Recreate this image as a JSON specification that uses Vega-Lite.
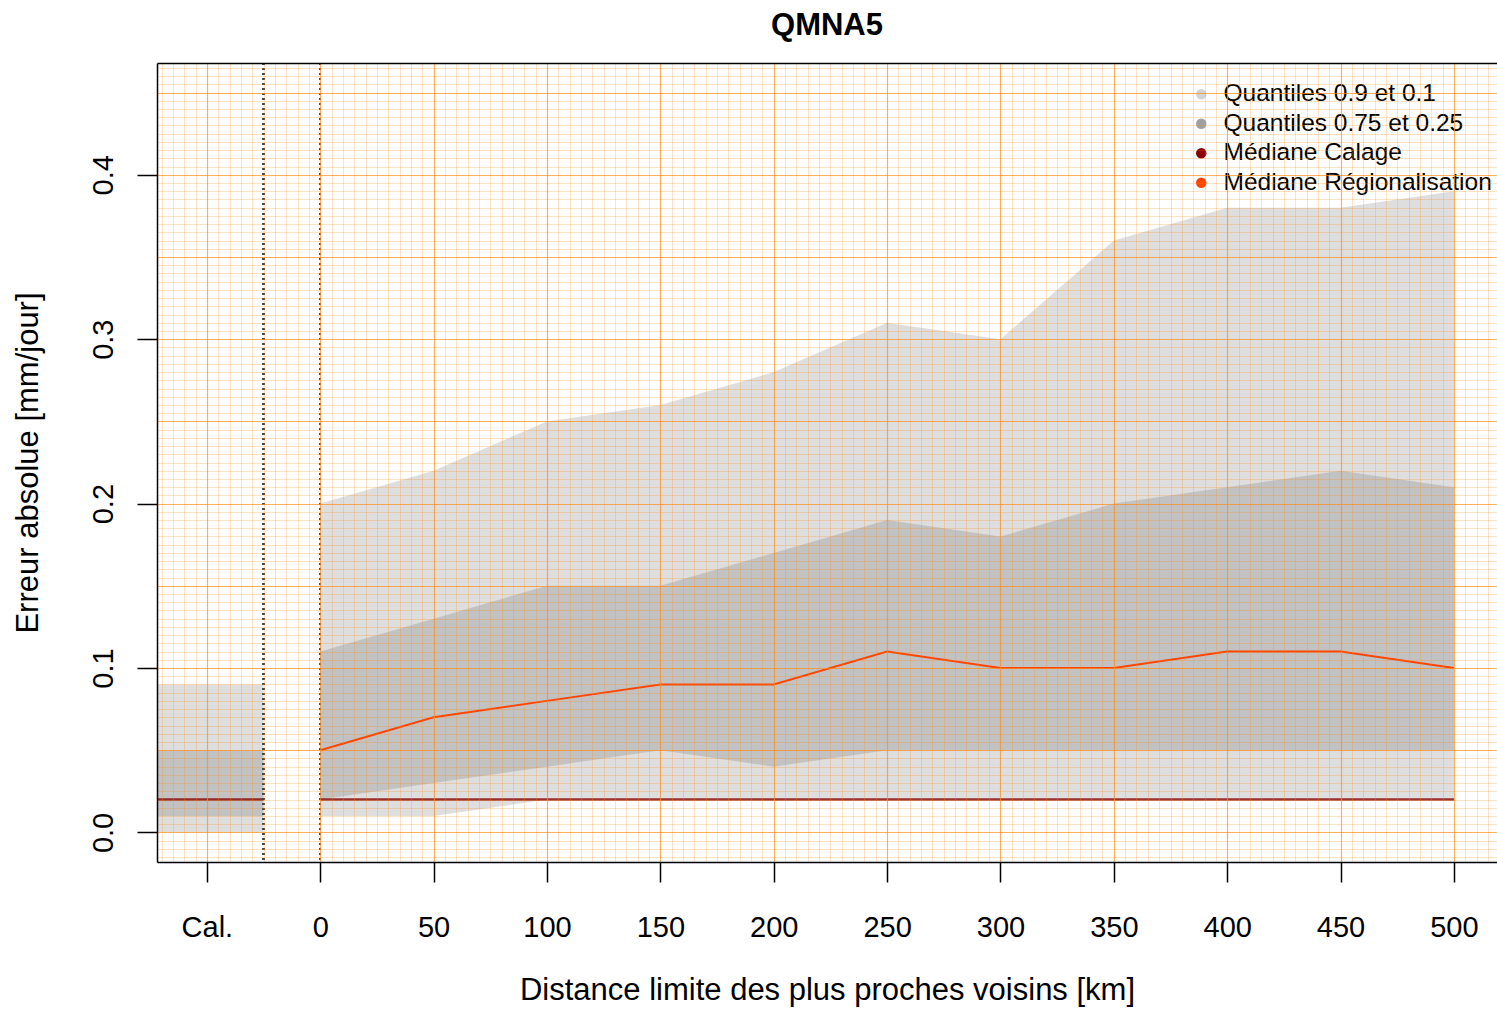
{
  "$schema": "https://vega.github.io/schema/vega-lite/v6.json",
  "autosize": "none",
  "width": 1340,
  "height": 799,
  "padding": {"left": 157, "top": 63, "right": 0, "bottom": 147},
  "title": {"text": "QMNA5", "fontSize": 31, "fontWeight": "bold", "font": "Liberation Sans", "color": "black", "offset": 20, "anchor": "middle"},
  "config": {"font": "Liberation Sans", "view": {"stroke": null}},
  "data": {"values": [
    {"part": "cal", "x": -75, "q10": 0.0, "q25": 0.01, "q75": 0.05, "q90": 0.09, "medcal": 0.02},
    {"part": "cal", "x": -25, "q10": 0.0, "q25": 0.01, "q75": 0.05, "q90": 0.09, "medcal": 0.02},
    {"part": "reg", "x": 0, "q10": 0.01, "q25": 0.02, "medreg": 0.05, "q75": 0.11, "q90": 0.20, "medcal": 0.02},
    {"part": "reg", "x": 50, "q10": 0.01, "q25": 0.03, "medreg": 0.07, "q75": 0.13, "q90": 0.22, "medcal": 0.02},
    {"part": "reg", "x": 100, "q10": 0.02, "q25": 0.04, "medreg": 0.08, "q75": 0.15, "q90": 0.25, "medcal": 0.02},
    {"part": "reg", "x": 150, "q10": 0.02, "q25": 0.05, "medreg": 0.09, "q75": 0.15, "q90": 0.26, "medcal": 0.02},
    {"part": "reg", "x": 200, "q10": 0.02, "q25": 0.04, "medreg": 0.09, "q75": 0.17, "q90": 0.28, "medcal": 0.02},
    {"part": "reg", "x": 250, "q10": 0.02, "q25": 0.05, "medreg": 0.11, "q75": 0.19, "q90": 0.31, "medcal": 0.02},
    {"part": "reg", "x": 300, "q10": 0.02, "q25": 0.05, "medreg": 0.10, "q75": 0.18, "q90": 0.30, "medcal": 0.02},
    {"part": "reg", "x": 350, "q10": 0.02, "q25": 0.05, "medreg": 0.10, "q75": 0.20, "q90": 0.36, "medcal": 0.02},
    {"part": "reg", "x": 400, "q10": 0.02, "q25": 0.05, "medreg": 0.11, "q75": 0.21, "q90": 0.38, "medcal": 0.02},
    {"part": "reg", "x": 450, "q10": 0.02, "q25": 0.05, "medreg": 0.11, "q75": 0.22, "q90": 0.38, "medcal": 0.02},
    {"part": "reg", "x": 500, "q10": 0.02, "q25": 0.05, "medreg": 0.10, "q75": 0.21, "q90": 0.39, "medcal": 0.02}
  ]},
  "resolve": {"axis": {"x": "independent", "y": "independent"}},
  "layer": [
    {
      "mark": {"type": "area", "clip": true, "opacity": 0.75},
      "encoding": {
        "x": {"field": "x", "type": "quantitative",
          "scale": {"domain": [-72, 519], "nice": false, "zero": false},
          "axis": {"orient": "top", "tickCount": 120, "labels": false, "ticks": false, "domain": true, "domainColor": "black", "domainWidth": 1.5, "grid": true, "gridColor": "#ff8c1a", "gridOpacity": 0.26, "gridWidth": 1, "title": null, "zindex": 1}},
        "y": {"field": "q90", "type": "quantitative",
          "scale": {"domain": [-0.018, 0.468], "nice": false, "zero": false},
          "axis": {"orient": "right", "tickCount": 100, "labels": false, "ticks": false, "domain": false, "grid": true, "gridColor": "#ff8c1a", "gridOpacity": 0.26, "gridWidth": 1, "title": null, "zindex": 1}},
        "y2": {"field": "q10"},
        "detail": {"field": "part"},
        "color": {"datum": "Quantiles 0.9 et 0.1", "type": "nominal",
          "scale": {"domain": ["Quantiles 0.9 et 0.1", "Quantiles 0.75 et 0.25", "Médiane Calage", "Médiane Régionalisation"], "range": ["#d3d3d3", "#a0a0a0", "#8b0000", "#ff4500"]},
          "legend": {"orient": "none", "legendX": 1032, "legendY": 19, "title": null, "symbolType": "circle", "symbolSize": 110, "labelFontSize": 24.5, "labelFont": "Liberation Sans", "labelColor": "black", "labelOffset": 10, "labelLimit": 0, "rowPadding": 4.5, "padding": 0, "symbolStrokeWidth": 0, "symbolOpacity": 1,
            "encode": {"symbols": {"update": {"fill": {"scale": "color", "field": "value"}, "opacity": {"value": 1}, "strokeWidth": {"value": 0}}}}}}
      }
    },
    {
      "mark": {"type": "area", "clip": true, "opacity": 0.44},
      "encoding": {
        "x": {"field": "x", "type": "quantitative", "axis": null},
        "y": {"field": "q75", "type": "quantitative", "axis": null},
        "y2": {"field": "q25"},
        "detail": {"field": "part"},
        "color": {"datum": "Quantiles 0.75 et 0.25", "type": "nominal"}
      }
    },
    {
      "mark": {"type": "line", "clip": true, "strokeWidth": 2.5, "opacity": 0.8},
      "encoding": {
        "x": {"field": "x", "type": "quantitative",
          "axis": {"orient": "bottom", "values": [-50, 0, 50, 100, 150, 200, 250, 300, 350, 400, 450, 500], "format": "d", "labelExpr": "datum.value == -50 ? 'Cal.' : datum.label",
            "grid": true, "gridColor": "#ff8c1a", "gridOpacity": 0.6, "gridWidth": 1.2,
            "domain": true, "domainColor": "black", "domainWidth": 1.5,
            "ticks": true, "tickColor": "black", "tickSize": 20, "tickWidth": 1.5,
            "labelFontSize": 29, "labelColor": "black", "labelPadding": 31, "labelFlush": false, "labelOverlap": false,
            "title": "Distance limite des plus proches voisins [km]", "titleFontSize": 31, "titleFontWeight": "normal", "titleColor": "black", "titlePadding": 33, "zindex": 1}},
        "y": {"field": "medcal", "type": "quantitative",
          "axis": {"orient": "left", "values": [0, 0.05, 0.1, 0.15, 0.2, 0.25, 0.3, 0.35, 0.4, 0.45],
            "labelExpr": "round(datum.value*100) % 10 == 0 ? format(datum.value, '.1f') : ''",
            "grid": true, "gridColor": "#ff8c1a", "gridOpacity": 0.6, "gridWidth": 1.2,
            "domain": true, "domainColor": "black", "domainWidth": 1.5,
            "ticks": true, "tickColor": "black", "tickSize": 20, "tickWidth": 1.5,
            "tickOpacity": {"condition": {"test": "round(datum.value*100) % 10 == 0", "value": 1}, "value": 0},
            "labelFontSize": 29, "labelColor": "black", "labelAngle": -90, "labelAlign": "center", "labelBaseline": "bottom", "labelPadding": 19, "labelOverlap": false, "labelFlush": false,
            "title": "Erreur absolue [mm/jour]", "titleFontSize": 31, "titleFontWeight": "normal", "titleColor": "black", "titlePadding": 45, "zindex": 1}},
        "detail": {"field": "part"},
        "color": {"datum": "Médiane Calage", "type": "nominal"}
      }
    },
    {
      "transform": [{"filter": "datum.part == 'reg'"}],
      "mark": {"type": "line", "clip": true, "strokeWidth": 2},
      "encoding": {
        "x": {"field": "x", "type": "quantitative", "axis": null},
        "y": {"field": "medreg", "type": "quantitative", "axis": null},
        "color": {"datum": "Médiane Régionalisation", "type": "nominal"}
      }
    },
    {
      "mark": {"type": "rule", "color": "#444444", "strokeDash": [2, 3], "strokeWidth": 1.5},
      "encoding": {"x": {"datum": -25, "type": "quantitative", "axis": null}}
    },
    {
      "mark": {"type": "rule", "color": "#444444", "strokeDash": [2, 3], "strokeWidth": 1.5},
      "encoding": {"x": {"datum": 0, "type": "quantitative", "axis": null}}
    }
  ]
}
